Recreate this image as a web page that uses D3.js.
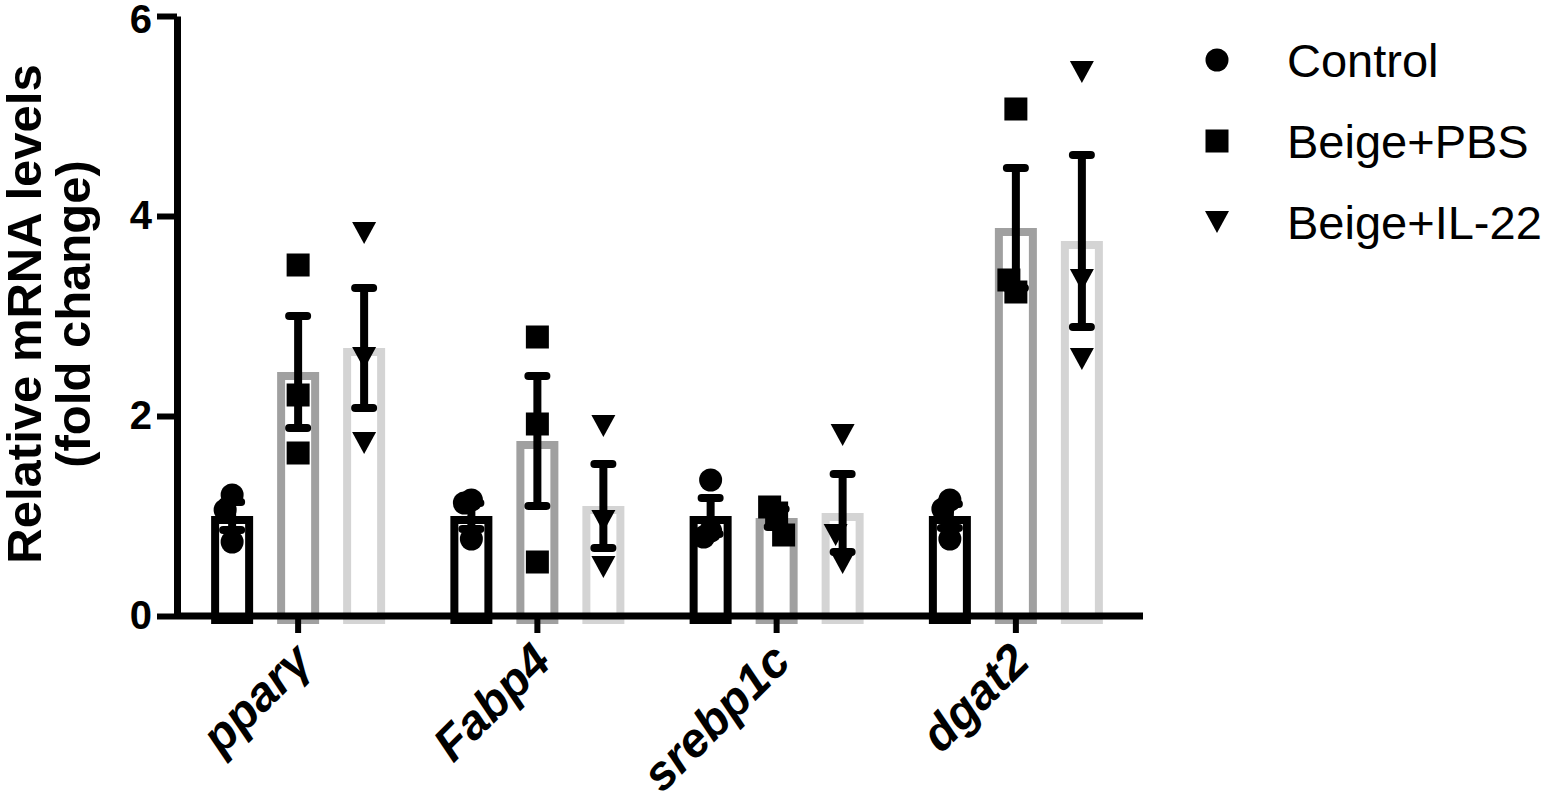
<!DOCTYPE html>
<html>
<head>
<meta charset="utf-8">
<script src="https://cdn.jsdelivr.net/npm/d3@7"></script>
<style>
  html, body { margin: 0; padding: 0; background: #fff; }
  svg { display: block; }
  text { font-family: "Liberation Sans", Arial, Helvetica, sans-serif; fill: #000; }
</style>
</head>
<body>
<svg id="chart" width="1552" height="793"></svg>
<script>
// ---- Data ----
const categories = ["pparγ", "Fabp4", "srebp1c", "dgat2"];
const groups = ["Control", "Beige+PBS", "Beige+IL-22"];
const yTicks = [0, 2, 4, 6];

const controlMean = [1.0, 1.0, 1.0, 1.0];
const controlSEM = [0.14, 0.13, 0.18, 0.12];
const controlPoints = [[1.21, 1.06, 0.74], [1.16, 1.13, 0.77], [1.36, 0.85, 0.79], [1.16, 1.07, 0.77]];

const pbsMean = [2.44, 1.75, 0.98, 3.88];
const pbsSEM = [0.56, 0.65, 0.09, 0.60];
const pbsPoints = [[3.51, 2.21, 1.63], [2.79, 1.92, 0.54], [1.03, 1.09, 0.81], [5.07, 3.24, 3.36]];

const il22Mean = [2.68, 1.10, 1.03, 3.75];
const il22SEM = [0.60, 0.42, 0.39, 0.86];
const il22Points = [[3.83, 2.58, 1.73], [1.90, 0.95, 0.49], [1.81, 0.53, 0.81], [5.44, 3.36, 2.57]];

// ---- Build table ----
const means = [controlMean, pbsMean, il22Mean];
const sems = [controlSEM, pbsSEM, il22SEM];
const points = [controlPoints, pbsPoints, il22Points];
const barColors = ["#000000", "#a0a0a0", "#d4d4d4"];
const shapes = ["circle", "square", "triangle"];

const table = [];
categories.forEach((c, ci) => {
  groups.forEach((g, gi) => {
    table.push({ cat: c, group: g, gi, mean: means[gi][ci], sem: sems[gi][ci], pts: points[gi][ci] });
  });
});

// ---- Layout ----
const svg = d3.select("#chart");
const axisLeftX = 177, axisRightX = 1143;
const x = d3.scaleBand().domain(categories).range([178.5, 1135.5]).paddingInner(0).paddingOuter(0);
const xSub = d3.scaleBand().domain(groups).range([-99, 99]);
const y = d3.scaleLinear().domain([0, 6]).range([616, 16]);

const barW = 42, barStroke = 8;
const cx = d => x(d.cat) + x.bandwidth() / 2 + xSub(d.group) + xSub.bandwidth() / 2;

// Bars (border drawn inside the bar)
svg.append("g").selectAll("rect").data(table).join("rect")
  .attr("x", d => cx(d) - barW / 2 + barStroke / 2)
  .attr("width", barW - barStroke)
  .attr("y", d => y(d.mean) + barStroke / 2)
  .attr("height", d => y(0) - y(d.mean))
  .attr("fill", "#fff")
  .attr("stroke", d => barColors[d.gi])
  .attr("stroke-width", barStroke);

// Error bars
const eb = svg.append("g").attr("stroke", "#000").attr("stroke-width", 8).attr("stroke-linecap", "round");
table.forEach(d => {
  const c = cx(d);
  eb.append("line").attr("x1", c).attr("x2", c).attr("y1", y(d.mean + d.sem)).attr("y2", y(d.mean - d.sem)).attr("stroke-linecap", "butt");
  eb.append("line").attr("x1", c - 9).attr("x2", c + 9).attr("y1", y(d.mean + d.sem)).attr("y2", y(d.mean + d.sem));
  eb.append("line").attr("x1", c - 9).attr("x2", c + 9).attr("y1", y(d.mean - d.sem)).attr("y2", y(d.mean - d.sem));
});

// Marker drawing
function marker(g, shape, px, py) {
  if (shape === "circle") {
    g.append("circle").attr("cx", px).attr("cy", py).attr("r", 11.5).attr("fill", "#000");
  } else if (shape === "square") {
    g.append("rect").attr("x", px - 11.5).attr("y", py - 11.5).attr("width", 23).attr("height", 23).attr("fill", "#000");
  } else {
    g.append("path").attr("d", `M${px - 12},${py - 11}L${px + 12},${py - 11}L${px},${py + 11}Z`).attr("fill", "#000");
  }
}

// Points with simple collision spreading
const ptsG = svg.append("g");
const offsets = [0, -7, 7, -14, 14];
table.forEach(d => {
  const c = cx(d);
  const placed = [];
  d.pts.forEach(v => {
    const py = y(v);
    let off = 0;
    for (const o of offsets) {
      const clash = placed.some(p => Math.abs(p.o - o) < 7 && Math.abs(p.py - py) < 30);
      if (!clash) { off = o; break; }
    }
    placed.push({ o: off, py });
    marker(ptsG, shapes[d.gi], c + off, py);
  });
});

// Y axis
const yAxis = svg.append("g").attr("transform", `translate(${axisLeftX},0)`)
  .call(d3.axisLeft(y).tickValues(yTicks).tickSize(20).tickPadding(5).tickSizeOuter(0).tickFormat(d3.format("d")));
yAxis.select(".domain").attr("stroke-width", 7).attr("stroke", "#000");
yAxis.selectAll(".tick line").attr("stroke-width", 6).attr("stroke", "#000");
yAxis.selectAll(".tick text").attr("font-size", 40).attr("font-weight", "bold")
  .attr("font-family", "'Liberation Sans', Arial, sans-serif").attr("fill", "#000")
  .attr("dy", d => d === 6 ? "0.42em" : "0.32em");

// X axis
const xAxis = svg.append("g").attr("transform", `translate(0,${y(0)})`)
  .call(d3.axisBottom(x).tickSize(17).tickSizeOuter(0));
xAxis.select(".domain").remove();
xAxis.append("line").attr("x1", axisLeftX).attr("x2", axisRightX).attr("stroke", "#000").attr("stroke-width", 7);
xAxis.selectAll(".tick line").attr("stroke-width", 6).attr("stroke", "#000");
xAxis.selectAll(".tick text")
  .attr("font-size", 48).attr("font-weight", "bold").attr("font-style", "italic")
  .attr("font-family", "'Liberation Sans', Arial, sans-serif").attr("fill", "#000")
  .attr("text-anchor", "end")
  .attr("transform", "translate(4,36) rotate(-45)")
  .attr("x", 0).attr("y", 0).attr("dy", "0.35em");

// Y axis title
const title = svg.append("text")
  .attr("transform", "translate(51,314) rotate(-90)")
  .attr("text-anchor", "middle").attr("font-size", 49).attr("font-weight", "bold");
title.append("tspan").attr("x", 0).attr("dy", "-0.2em").text("Relative mRNA levels");
title.append("tspan").attr("x", 0).attr("dy", "1.0em").text("(fold change)");

// Legend
const legend = svg.append("g");
groups.forEach((g, i) => {
  const ly = 60 + i * 81;
  marker(legend, shapes[i], 1217, ly);
  legend.append("text").attr("x", 1287).attr("y", ly).attr("dy", "0.36em")
    .attr("font-size", 47).text(g);
});
</script>
</body>
</html>
